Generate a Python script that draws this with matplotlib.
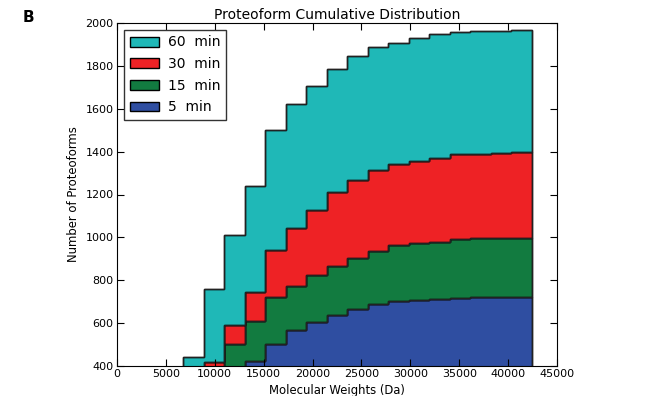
import numpy as np
import matplotlib
matplotlib.use("Agg")
import matplotlib.pyplot as plt
from matplotlib.patches import Patch

# bin edges (Da)
edges = np.linspace(6780, 42400, 18)

# stacked cumulative counts (top of each layer)
top_5min = [30, 120, 340, 425, 504, 568, 604, 636, 664, 688, 705, 708, 714, 719, 722, 722, 723]
top_15min = [70, 250, 504, 608, 722, 773, 824, 868, 902, 938, 963, 974, 980, 992, 995, 997, 998]
top_30min = [150, 417, 593, 746, 940, 1042, 1126, 1213, 1269, 1313, 1341, 1356, 1372, 1387, 1390, 1393, 1397]
top_60min = [443, 759, 1011, 1238, 1499, 1621, 1704, 1785, 1846, 1888, 1909, 1930, 1947, 1958, 1964, 1964, 1966]

labels = ["5  min", "15  min", "30  min", "60  min"]
colors = ["#2f4ea1", "#127b40", "#ee2225", "#1fb8b7"]

fig = plt.figure(figsize=(6.62, 3.96), dpi=100)
ax = fig.add_axes([117 / 662, 1 - 366 / 396, 440 / 662, 343 / 396])

tops = [top_5min, top_15min, top_30min, top_60min]
base = np.zeros(len(edges) - 1)
for top, c in zip(tops, colors):
    top = np.array(top, dtype=float)
    ax.stairs(top, edges, baseline=base, fill=True, facecolor=c,
              edgecolor="black", linewidth=1)
    ax.stairs(top, edges, baseline=base, fill=False, color="#222222",
              linewidth=1)
    base = top

ax.set_xlim(0, 45000)
ax.set_ylim(400, 2000)
ax.set_xticks(np.arange(0, 45001, 5000))
ax.set_yticks(np.arange(400, 2001, 200))
ax.tick_params(direction="in", top=True, right=True, labelsize=8, length=5,
               pad=2.5)
ax.set_xlabel("Molecular Weights (Da)", fontsize=8.4, labelpad=3)
ax.set_ylabel("Number of Proteoforms", fontsize=8.4, labelpad=4)
ax.set_title("Proteoform Cumulative Distribution", fontsize=10, pad=3)

handles = [Patch(facecolor=c, edgecolor="black") for c in colors[::-1]]
leg = ax.legend(handles, labels[::-1], loc="upper left", fontsize=10,
                fancybox=False, framealpha=1, edgecolor="#333333",
                handlelength=2.1, handleheight=0.7, handletextpad=0.7,
                labelspacing=0.55, borderpad=0.4, borderaxespad=0.5)
leg.get_frame().set_linewidth(1)

fig.text(28 / 662, 1 - 18 / 396, "B", fontsize=11, fontweight="bold",
         va="center", ha="center")

fig.savefig("out.png", dpi=100)
